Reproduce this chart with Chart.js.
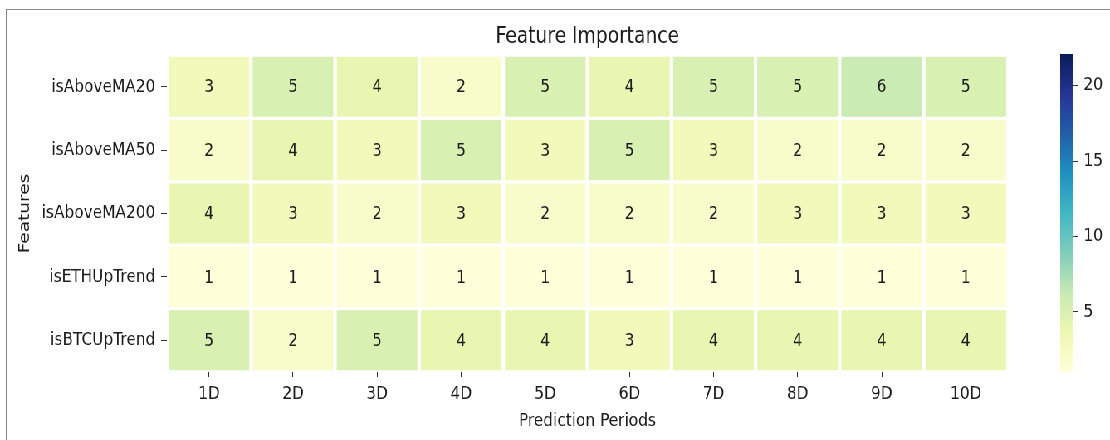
<!DOCTYPE html>
<html>
<head>
<meta charset="utf-8">
<script src="https://cdn.jsdelivr.net/npm/chart.js@4"></script>
<style>
  html, body { margin: 0; padding: 0; background: #fff; }
  #wrap { position: relative; width: 1110px; height: 440px; overflow: hidden; background: #fff; }
  #frame { position: absolute; left: 6px; top: 9px; width: 1110px; height: 440px; border-top: 1px solid #888; border-left: 1px solid #888; }
  #stage { position: absolute; left: 0; top: 0; width: 1337px; height: 440px; transform: scaleX(0.8302); transform-origin: 0 0; }
  #main { position: absolute; left: 0; top: 0; }
  #cbar { position: absolute; left: 1250px; top: 0; }
</style>
</head>
<body>
<div id="wrap">
  <div id="frame"></div>
  <div id="stage">
    <canvas id="main" width="1337" height="440"></canvas>
    <canvas id="cbar" width="87" height="440"></canvas>
  </div>
</div>
<script>
// ---- data ----
const periods = ['1D','2D','3D','4D','5D','6D','7D','8D','9D','10D'];
const features = ['isAboveMA20','isAboveMA50','isAboveMA200','isETHUpTrend','isBTCUpTrend'];
const isAboveMA20  = [3,5,4,2,5,4,5,5,6,5];
const isAboveMA50  = [2,4,3,5,3,5,3,2,2,2];
const isAboveMA200 = [4,3,2,3,2,2,2,3,3,3];
const isETHUpTrend = [1,1,1,1,1,1,1,1,1,1];
const isBTCUpTrend = [5,2,5,4,4,3,4,4,4,4];
const colorbarTicks = [5,10,15,20];
const vmin = 1, vmax = 22.1;

const rows = [isAboveMA20, isAboveMA50, isAboveMA200, isETHUpTrend, isBTCUpTrend];

// YlGnBu colormap stops
const ylgnbu = ['#ffffd9','#edf8b1','#c7e9b4','#7fcdbb','#41b6c4','#1d91c0','#225ea8','#253494','#081d58'];
function hex2rgb(h){ return [parseInt(h.slice(1,3),16),parseInt(h.slice(3,5),16),parseInt(h.slice(5,7),16)]; }
function cmap(v){
  let t = (v - vmin) / (vmax - vmin);
  t = Math.max(0, Math.min(1, t));
  const n = ylgnbu.length - 1;
  const p = t * n;
  const i = Math.min(Math.floor(p), n - 1);
  const f = p - i;
  const a = hex2rgb(ylgnbu[i]), b = hex2rgb(ylgnbu[i+1]);
  const c = a.map((x, k) => Math.round(x + (b[k] - x) * f));
  return `rgb(${c[0]},${c[1]},${c[2]})`;
}

Chart.defaults.font.family = "'DejaVu Sans', sans-serif";
const textColor = '#1c1c1c';
Chart.defaults.color = textColor;

const cellLabels = {
  id: 'cellLabels',
  afterDatasetsDraw(chart) {
    const ctx = chart.ctx;
    ctx.save();
    ctx.font = "18px 'DejaVu Sans'";
    ctx.fillStyle = textColor;
    ctx.textAlign = 'center';
    ctx.textBaseline = 'middle';
    chart.data.datasets.forEach((ds, di) => {
      const meta = chart.getDatasetMeta(di);
      meta.data.forEach((el, j) => {
        const y = (el.y + el.base) / 2;
        ctx.fillText(String(rows[di][j]), el.x, y + 1);
      });
    });
    ctx.restore();
  }
};

const datasets = rows.map((vals, i) => ({
  label: features[i],
  data: vals.map(() => [i - 0.5, i + 0.5]),
  backgroundColor: vals.map(cmap),
  borderColor: '#ffffff',
  borderWidth: { left: 2.4, right: 2.4, top: 2, bottom: 2 },
  borderSkipped: false,
  grouped: false,
  barPercentage: 1,
  categoryPercentage: 1
}));

new Chart(document.getElementById('main'), {
  type: 'bar',
  data: { labels: periods, datasets },
  options: {
    responsive: false,
    animation: false,
    layout: { padding: { left: 0, right: 123, top: 0, bottom: 0 } },
    plugins: {
      legend: { display: false },
      tooltip: { enabled: false },
      title: {
        display: true,
        text: 'Feature Importance',
        fullSize: false,
        color: textColor,
        font: { size: 22.5, weight: 'normal' },
        padding: { top: 24, bottom: 4 }
      }
    },
    scales: {
      x: {
        type: 'category',
        offset: true,
        grid: { display: true, drawOnChartArea: false, offset: false, drawTicks: true, tickLength: 5, color: '#333' },
        border: { display: false },
        ticks: { color: textColor, font: { size: 18.5 }, padding: 6, maxRotation: 0 },
        title: { display: true, text: 'Prediction Periods', color: textColor, font: { size: 18.5 }, padding: { top: 0, bottom: 8 } },
        afterFit(s) { s.height = 68; }
      },
      y: {
        type: 'linear',
        min: -0.5,
        max: 4.5,
        reverse: true,
        afterBuildTicks(s) { s.ticks = [0,1,2,3,4].map(v => ({ value: v })); },
        grid: { display: true, drawOnChartArea: false, drawTicks: true, tickLength: 7, color: '#333' },
        border: { display: false },
        ticks: { color: textColor, font: { size: 18.5 }, padding: 7, callback: v => features[v] },
        title: { display: true, text: 'Features', color: textColor, font: { size: 18.5 }, padding: { top: 19, bottom: 0 } },
        afterFit(s) { s.width = 201; }
      }
    }
  },
  plugins: [cellLabels]
});

// ---- colorbar ----
new Chart(document.getElementById('cbar'), {
  type: 'bar',
  data: {
    labels: ['cb'],
    datasets: [{
      data: [[vmin, vmax]],
      backgroundColor(ctx) {
        const ca = ctx.chart.chartArea;
        if (!ca) return '#ffffd9';
        const yb = ctx.chart.scales.y.getPixelForValue(vmin);
        const yt = ctx.chart.scales.y.getPixelForValue(vmax);
        const g = ctx.chart.ctx.createLinearGradient(0, yb, 0, yt);
        ylgnbu.forEach((c, k) => g.addColorStop(k / (ylgnbu.length - 1), c));
        return g;
      },
      borderWidth: 0,
      barPercentage: 1,
      categoryPercentage: 1
    }]
  },
  options: {
    responsive: false,
    animation: false,
    layout: { padding: { left: 27, right: 0, top: 54, bottom: 68 } },
    plugins: { legend: { display: false }, tooltip: { enabled: false } },
    scales: {
      x: { display: false },
      y: {
        position: 'right',
        type: 'linear',
        min: vmin,
        max: vmax,
        afterBuildTicks(s) { s.ticks = colorbarTicks.map(v => ({ value: v })); },
        grid: { display: true, drawOnChartArea: false, drawTicks: true, tickLength: 6, color: '#333' },
        border: { display: false },
        ticks: { color: textColor, font: { size: 18.5 }, padding: 6 },
        afterFit(s) { s.width = 44; }
      }
    }
  }
});
</script>
</body>
</html>
